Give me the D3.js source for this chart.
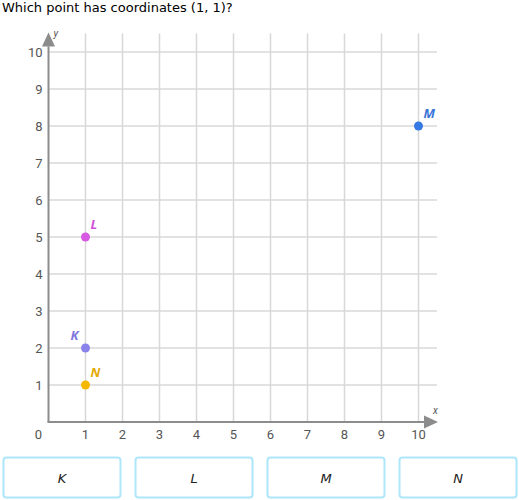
<!DOCTYPE html>
<html>
<head>
<meta charset="utf-8">
<script src="https://cdn.jsdelivr.net/npm/d3@7"></script>
<style>
  body { margin: 0; background: #fff; }
  .question { font-family: "DejaVu Sans", Verdana, sans-serif; font-size: 13px; color: #222; }
  .tick-label { font-family: Roboto, "Noto Sans", sans-serif; font-size: 13px; fill: #555; }
  .axis-name { font-family: Roboto, sans-serif; font-size: 10px; font-style: italic; fill: #555; }
  .pt-label { font-family: "Open Sans", "DejaVu Sans", sans-serif; font-size: 13px; font-weight: bold; font-style: italic; }
  .choice-text { font-family: "DejaVu Sans", Verdana, sans-serif; font-size: 13px; font-style: italic; fill: #222; }
</style>
</head>
<body>
<svg id="chart" width="519" height="500"></svg>
<script>

//  values
var point_names = ['M', 'L', 'K', 'N'];
var point_x = [10, 1, 1, 1];
var point_y = [8, 5, 2, 1];
var point_colors = ['#3479e4', '#d859e2', '#8a84ea', '#f5b800'];
var label_colors = ['#3a74d6', '#d04fd9', '#7f77dd', '#e3a900'];
var label_side = ['right', 'right', 'left', 'right'];

var tick_values = [1, 2, 3, 4, 5, 6, 7, 8, 9, 10];
var choices = ['K', 'L', 'M', 'N'];

var svg = d3.select('#chart');

svg.append('text')
    .attr('class', 'question')
    .attr('x', 2)
    .attr('y', 12)
    .text('Which point has coordinates (1, 1)?');

var x = d3.scaleLinear().domain([0, 10]).range([48.5, 418.5]);
var y = d3.scaleLinear().domain([0, 10]).range([422, 52]);

// grid
var grid = svg.append('g');

grid.selectAll('.vgrid')
    .data(tick_values)
    .enter()
    .append('line')
    .attr('x1', function(d) { return x(d); })
    .attr('x2', function(d) { return x(d); })
    .attr('y1', y(10.5))
    .attr('y2', y(0))
    .attr('stroke', '#d8d8d8')
    .attr('stroke-width', 1.5);

grid.selectAll('.hgrid')
    .data(tick_values)
    .enter()
    .append('line')
    .attr('x1', x(0))
    .attr('x2', x(10.5))
    .attr('y1', function(d) { return y(d); })
    .attr('y2', function(d) { return y(d); })
    .attr('stroke', '#d8d8d8')
    .attr('stroke-width', 1.5);

// axes with arrows
var axis_color = '#8c8c8c';

svg.append('line')
    .attr('x1', x(0) - 1).attr('x2', x(10.15))
    .attr('y1', y(0)).attr('y2', y(0))
    .attr('stroke', axis_color).attr('stroke-width', 2);

svg.append('line')
    .attr('x1', x(0)).attr('x2', x(0))
    .attr('y1', y(0)).attr('y2', y(10.15))
    .attr('stroke', axis_color).attr('stroke-width', 2);

svg.append('path')
    .attr('d', 'M' + (x(10.5) + 1) + ',' + y(0) + 'l-14,-6.5l0,13z')
    .attr('fill', axis_color);

svg.append('path')
    .attr('d', 'M' + x(0) + ',' + (y(10.5) - 1) + 'l-6.5,14l13,0z')
    .attr('fill', axis_color);

svg.append('text')
    .attr('class', 'axis-name')
    .attr('x', x(10.5) - 4)
    .attr('y', y(0) - 8)
    .text('x');

svg.append('text')
    .attr('class', 'axis-name')
    .attr('x', x(0) + 5)
    .attr('y', y(10.5) + 3)
    .text('y');

// tick labels
svg.selectAll('.xlab')
    .data(tick_values)
    .enter()
    .append('text')
    .attr('class', 'tick-label')
    .attr('x', function(d) { return x(d); })
    .attr('y', y(0) + 17)
    .attr('text-anchor', 'middle')
    .text(function(d) { return d; });

svg.selectAll('.ylab')
    .data(tick_values)
    .enter()
    .append('text')
    .attr('class', 'tick-label')
    .attr('x', x(0) - 6)
    .attr('y', function(d) { return y(d) + 4.5; })
    .attr('text-anchor', 'end')
    .text(function(d) { return d; });

svg.append('text')
    .attr('class', 'tick-label')
    .attr('x', x(0) - 10)
    .attr('y', y(0) + 17)
    .attr('text-anchor', 'middle')
    .text('0');

// points
var pts = d3.range(point_names.length);

svg.selectAll('.pt')
    .data(pts)
    .enter()
    .append('circle')
    .attr('cx', function(i) { return x(point_x[i]); })
    .attr('cy', function(i) { return y(point_y[i]); })
    .attr('r', 4.5)
    .attr('fill', function(i) { return point_colors[i]; });

svg.selectAll('.pt-label')
    .data(pts)
    .enter()
    .append('text')
    .attr('class', 'pt-label')
    .attr('x', function(i) { return x(point_x[i]) + (label_side[i] == 'right' ? 5 : -15); })
    .attr('y', function(i) { return y(point_y[i]) - 8; })
    .attr('fill', function(i) { return label_colors[i]; })
    .text(function(i) { return point_names[i]; });

// answer buttons
var btn = svg.selectAll('.choice')
    .data(choices)
    .enter()
    .append('g')
    .attr('transform', function(d, i) { return 'translate(' + (3 + i * 132) + ',457)'; });

btn.append('rect')
    .attr('x', 0.5).attr('y', 0.5)
    .attr('width', 117).attr('height', 40)
    .attr('rx', 3)
    .attr('fill', '#fff')
    .attr('stroke', '#aee6fa')
    .attr('stroke-width', 2);

btn.append('text')
    .attr('class', 'choice-text')
    .attr('x', 59)
    .attr('y', 25.5)
    .attr('text-anchor', 'middle')
    .text(function(d) { return d; });

</script>
</body>
</html>
